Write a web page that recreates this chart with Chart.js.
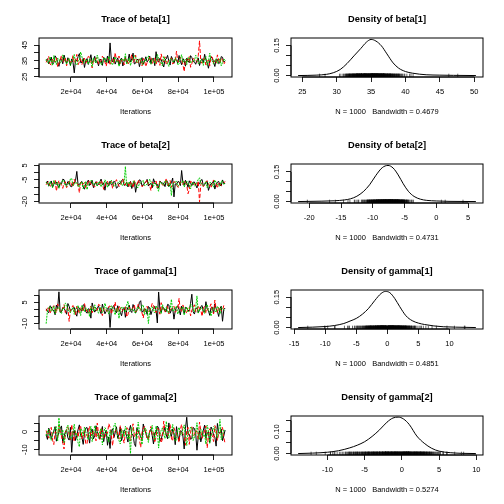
<!DOCTYPE html>
<html>
<head>
<meta charset="utf-8">
<script src="https://cdn.jsdelivr.net/npm/chart.js@4.4.0/dist/chart.umd.min.js"></script>
<style>
  html, body { margin: 0; padding: 0; background: #fff; }
  #wrap { position: relative; width: 504px; height: 504px; }
  #wrap canvas { position: absolute; }
</style>
</head>
<body>
<div id="wrap"></div>
<script>
// ---- data ----
const iterStart = 6100, iterStep = 715;   // thinned iterations
const traceXTicks = [20000, 40000, 60000, 80000, 100000];
const traceXLabels = ['2e+04', '4e+04', '6e+04', '8e+04', '1e+05'];

const beta1Chain1 = [35.2, 36.4, 33.1, 34.9, 37.4, 32.7, 34.0, 38.2, 36.8, 34.5,
  31.6, 36.0, 35.9, 33.2, 38.7, 35.6, 33.4, 37.0, 35.0, 32.3,
  36.2, 34.1, 27.5, 35.8, 34.8, 37.7, 39.6, 33.9, 34.1, 36.6,
  30.9, 35.1, 36.5, 32.8, 35.3, 38.9, 33.8, 35.4, 37.9, 34.2,
  34.6, 31.9, 36.1, 35.5, 32.2, 37.3, 35.7, 34.0, 38.1, 33.6,
  46.3, 35.9, 34.4, 37.5, 33.0, 35.2, 36.9, 32.5, 35.5, 36.8,
  31.8, 34.7, 37.2, 33.5, 35.1, 39.3, 34.3, 36.2, 39.9, 33.1,
  33.6, 35.7, 36.0, 31.4, 34.9, 37.1, 32.9, 35.0, 37.6, 34.4,
  35.4, 38.0, 33.3, 36.3, 36.6, 32.0, 40.8, 35.3, 34.2, 36.7,
  35.8, 33.4, 31.2, 35.6, 36.3, 38.5, 34.7, 32.4, 37.8, 35.9,
  33.5, 36.1, 35.6, 33.7, 38.4, 34.8, 32.6, 36.5, 35.0, 31.7,
  36.7, 35.1, 33.9, 38.3, 37.1, 34.6, 34.5, 32.9, 35.3, 36.9,
  32.1, 35.2, 36.4, 33.8, 39.2, 35.7, 33.7, 30.4, 35.2, 37.4,
  36.9, 34.1, 31.5, 36.0, 35.9, 33.3, 34.0, 37.7, 37.3, 34.3, 35.1];
const beta1Chain2 = [34.1, 35.9, 37.8, 33.0, 32.4, 36.5, 35.6, 34.3, 36.9, 31.2,
  33.2, 35.7, 38.5, 34.0, 34.7, 37.1, 31.9, 35.4, 36.3, 33.8,
  35.0, 38.3, 33.6, 35.1, 39.1, 32.6, 34.4, 36.2, 32.8, 35.8,
  36.7, 33.5, 35.5, 37.9, 37.4, 34.6, 30.6, 35.3, 35.2, 36.8,
  36.8, 32.9, 33.9, 35.0, 38.0, 36.4, 34.2, 31.7, 35.9, 37.2,
  32.3, 34.8, 36.4, 33.2, 40.2, 35.6, 34.6, 38.1, 33.1, 35.4,
  35.8, 32.5, 37.0, 36.0, 32.7, 34.3, 36.1, 39.0, 34.0, 35.2,
  38.6, 33.7, 33.4, 36.6, 35.3, 31.8, 36.6, 35.0, 31.4, 34.1,
  34.9, 37.4, 37.7, 33.3, 35.1, 36.9, 33.0, 35.5, 36.2, 32.2,
  39.4, 35.8, 34.3, 37.6, 32.5, 34.5, 35.7, 36.3, 36.8, 33.1,
  33.8, 35.2, 41.1, 34.4, 34.6, 37.5, 35.4, 32.8, 28.3, 35.9,
  36.0, 34.2, 37.9, 31.0, 33.3, 36.7, 35.6, 35.0, 34.1, 38.2,
  47.6, 34.7, 33.5, 36.1, 36.5, 32.4, 34.8, 35.6, 32.0, 37.8,
  37.3, 34.0, 35.2, 33.6, 38.8, 35.4, 33.6, 36.9, 36.1, 32.9, 34.4];
const beta1Chain3 = [36.0, 34.2, 33.5, 37.6, 35.4, 32.1, 38.3, 35.0, 32.8, 36.8,
  35.9, 33.7, 34.3, 38.8, 37.1, 34.9, 33.0, 35.6, 36.6, 31.9,
  34.8, 36.3, 39.0, 33.4, 32.4, 35.2, 35.5, 40.6, 37.6, 34.0,
  33.9, 36.1, 35.1, 32.9, 36.4, 35.3, 31.3, 37.0, 34.6, 33.6,
  38.7, 35.5, 35.0, 32.6, 33.2, 36.7, 36.9, 34.4, 34.1, 37.9,
  35.7, 33.1, 32.6, 35.8, 37.5, 34.7, 35.3, 31.5, 33.8, 36.2,
  36.2, 34.8, 39.5, 33.0, 34.0, 36.9, 32.1, 35.4, 35.8, 38.4,
  37.3, 33.9, 34.5, 36.0, 36.7, 32.8, 33.1, 35.6, 35.2, 37.4,
  38.1, 34.3, 32.9, 36.5, 35.6, 33.5, 34.2, 39.1, 36.5, 35.1,
  33.7, 31.8, 37.8, 35.7, 35.0, 33.2, 31.6, 36.4, 36.1, 34.5,
  34.4, 37.0, 35.9, 32.4, 33.3, 36.6, 38.9, 34.1, 35.4, 35.9,
  32.7, 37.2, 36.8, 33.6, 34.6, 35.0, 35.1, 38.6, 37.2, 33.3,
  33.6, 35.5, 35.8, 32.2, 36.3, 37.7, 32.3, 34.8, 39.8, 35.3,
  34.9, 33.0, 35.5, 36.4, 33.4, 34.7, 36.6, 31.9, 34.0, 36.3, 35.3];

const beta2Chain1 = [-7.2, -5.9, -9.4, -7.7, -5.8, -10.1, -8.1, -6.4, -6.6, -8.9,
  -10.3, -7.0, -7.9, -4.6, -4.9, -8.2, -8.7, -6.1, -6.9, -9.5,
  -9.8, -7.3, -7.4, -5.5, 0.8, -8.6, -8.3, -6.8, -6.2, -9.9,
  -11.5, -7.6, -7.0, -5.2, -8.9, -7.9, -5.4, -10.4, -7.7, -6.3,
  -9.1, -8.0, -6.4, -4.5, -8.5, -7.1, -12.2, -6.6, -7.3, -9.2,
  -5.9, -8.4, -8.0, -6.0, -6.8, -10.8, -10.1, -7.5, -7.5, -5.6,
  -4.6, -8.8, -8.6, -6.5, -9.9, -7.4, -6.1, -11.0, -7.8, -6.2,
  -13.6, -8.3, -7.1, -5.0, -5.5, -9.1, -8.4, -7.2, -6.7, -4.7,
  -9.3, -7.9, -7.6, -10.5, -4.3, -6.9, -8.2, -8.1, -10.7, -5.8,
  -6.9, -7.3, -7.4, -9.7, -5.2, -6.4, -9.6, -8.5, -7.0, -3.8,
  -16.8, -7.8, -8.1, -6.3, -6.3, -9.0, 1.4, -7.1, -8.8, -5.3,
  -7.2, -10.2, -5.7, -7.5, -9.0, -6.7, -6.5, -8.6, -10.6, -7.0,
  -7.8, -5.4, -4.8, -9.4, -8.3, -6.8, -6.0, -12.3, -9.5, -7.7,
  -7.3, -5.9, -11.4, -8.2, -6.6, -6.1, -8.7, -9.2, -5.1, -7.4, -7.5];
const beta2Chain2 = [-8.4, -6.9, -6.1, -9.0, -9.7, -7.4, -7.0, -5.2, -12.8, -8.1,
  -5.6, -7.7, -8.2, -10.9, -7.5, -6.3, -10.4, -8.8, -6.3, -5.7,
  -8.9, -9.9, -4.7, -7.2, -7.1, -8.5, -13.9, -6.6, -8.6, -7.8,
  -6.8, -10.3, -9.2, -6.0, -5.3, -8.2, -7.9, -9.3, -10.0, -6.7,
  -6.5, -8.0, -8.3, -5.4, -7.3, -11.6, -9.6, -7.1, -5.9, -8.7,
  -8.0, -6.2, -11.1, -7.6, -6.7, -4.9, -7.6, -9.5, -9.4, -7.0,
  -4.4, -8.3, -8.5, -6.5, -7.2, -10.0, -6.0, -7.9, -10.5, -5.6,
  -8.8, -8.1, -5.1, -6.9, -7.7, -9.8, -9.0, -7.3, -6.4, -5.0,
  -8.1, -8.9, -12.5, -6.4, -7.4, -7.5, -5.8, -10.7, -9.3, -6.1,
  -6.9, -8.6, -8.7, -7.3, -3.9, -9.2, -7.8, -5.5, -10.2, -7.9,
  -6.2, -6.8, -8.4, -10.1, -9.8, -6.5, -7.0, -8.3, -5.5, -7.1,
  -8.6, -14.6, -11.7, -6.0, -6.6, -8.5, -7.9, -7.6, -9.1, -5.8,
  -20.3, -8.2, -6.8, -9.7, -8.0, -6.3, -5.7, -7.4, -9.4, -10.6,
  -7.3, -5.1, -6.4, -8.0, -10.8, -6.7, -7.7, -9.0, -8.5, -7.2, -6.1];
const beta2Chain3 = [-6.7, -8.0, -9.1, -6.2, -7.8, -10.5, -5.4, -7.3, -8.6, -6.6,
  -10.9, -8.4, -7.2, -5.1, -6.0, -9.2, -9.5, -7.6, -7.9, -4.3,
  -4.1, -8.9, -8.3, -6.8, -7.0, -9.7, -9.8, -7.1, -6.4, -11.2,
  -8.8, -6.0, -11.8, -7.9, -7.5, -5.5, -5.7, -8.6, -8.0, -7.2,
  -9.3, -6.4, -6.9, -9.9, -7.7, -8.2, -5.0, -6.9, -10.4, -7.4,
  -8.2, -5.3, -6.5, -9.4, -9.0, -7.7, -7.3, -6.1, -5.8, -8.8,
  -8.7, -7.0, 4.2, -9.3, -7.4, -6.5, -9.6, -8.1, -6.2, -5.7,
  -8.1, -10.3, -10.2, -7.5, -7.1, -6.3, -5.3, -9.0, -8.9, -7.8,
  -7.6, -4.6, -6.3, -8.7, -9.4, -7.2, -7.9, -10.8, -12.9, -6.6,
  -6.8, -8.5, -8.4, -5.9, -5.6, -9.1, -9.7, -7.0, -15.9, -8.3,
  -7.2, -6.4, -6.1, -9.5, -8.5, -7.3, -7.0, -5.4, -10.0, -8.1,
  -5.9, -7.8, -8.3, -11.3, -7.4, -6.7, -9.2, -8.8, -6.6, -4.8,
  -3.6, -7.5, -8.0, -9.0, -7.5, -6.2, -10.6, -8.4, -6.9, -7.1,
  -8.6, -10.1, -5.2, -6.8, -7.8, -9.3, -9.1, -6.0, -6.0, -8.2, -7.3];

const gamma1Chain1 = [0.4, -1.5, -2.3, 2.6, 1.8, -0.4, -0.9, -3.8, 3.1, 0.6,
  12.5, -2.1, -1.6, 1.3, 0.7, -0.8, -3.4, 4.2, 2.2, -1.1,
  -0.3, 0.9, 1.5, -2.6, -4.8, 1.6, 0.9, -0.5, -1.2, 3.3,
  2.9, -1.7, -2.7, 0.5, 0.1, -6.2, 4.6, 1.0, -1.9, -0.2,
  1.2, 2.4, -0.6, -3.0, 3.8, 0.3, -3.1, -1.3, 0.5, 1.8,
  -12.8, -0.6, 1.9, 2.7, -0.8, -2.4, 2.6, 0.1, -2.0, -4.5,
  0.3, 1.4, -5.6, -0.9, 1.4, 3.0, -1.0, -2.2, 3.5, 0.8,
  -2.5, -0.3, 0.8, 5.1, 6.2, -1.8, -1.4, 0.4, 0.0, -3.5,
  2.1, 1.1, -3.7, -0.7, 0.6, 2.2, -0.7, -9.6, 12.4, 0.2,
  -2.2, 1.9, 1.1, -1.2, -1.5, 3.6, 3.2, -2.7, -0.4, 0.7,
  -6.9, -1.0, 1.7, 2.5, -0.2, -3.9, 2.4, 0.4, -2.9, 1.5,
  0.9, -0.6, -1.1, 4.3, 10.8, -1.6, -3.3, 0.3, 1.3, -2.3,
  -0.5, 2.0, 2.8, -1.4, -1.8, 5.5, 0.2, -0.9, -4.2, 1.2,
  1.6, -2.8, 3.9, 0.6, -1.3, -5.0, 0.7, 2.3, -8.4, -0.1, 1.0];
const gamma1Chain2 = [-1.1, 0.7, 1.9, -2.8, -0.4, 1.5, 2.7, -0.9, -2.6, 3.9,
  0.8, -1.3, -1.7, 0.4, 3.4, -2.2, 0.2, 1.1, -8.5, -0.6,
  1.3, 2.8, -0.9, -4.0, 2.2, 0.1, -3.0, 1.9, 0.6, -1.5,
  4.1, 0.3, -1.5, -2.9, 0.0, 2.3, -2.4, 0.8, 1.7, -0.7,
  -0.7, 3.6, 3.0, -1.8, -4.4, 0.5, 0.9, -1.0, -1.2, 2.0,
  2.5, -3.3, -0.1, 1.2, 5.3, -0.4, -2.1, 2.6, 1.0, -1.6,
  -0.6, 0.9, 2.0, -5.3, -3.6, 1.7, 0.4, -0.2, 1.6, 3.1,
  -1.8, -0.8, 3.7, 1.4, -0.3, -2.5, -6.1, 0.6, 1.2, 2.2,
  -1.4, -1.1, 0.7, 4.4, 2.9, -0.5, -2.3, 1.3, 0.1, -3.4,
  4.8, 0.8, -1.0, -1.9, 1.8, 2.1, -3.2, -0.3, 0.5, 1.0,
  2.3, -2.0, -0.8, 0.2, 7.9, -1.2, -1.6, 3.2, 0.3, -0.7,
  -2.8, 1.6, 1.4, -4.6, -0.5, 0.9, 3.3, -1.5, -1.9, 2.7,
  0.6, -0.4, -4.9, 1.1, 2.1, -2.7, -0.2, 0.5, 1.5, 4.0,
  -1.3, -3.1, 6.6, 0.2, -2.5, 1.8, 0.8, -1.0, -0.9, 2.9, 2.4];
const gamma1Chain3 = [-10.1, -1.2, 0.9, 2.1, -1.3, -0.5, 2.4, -3.1, -0.2, 1.0,
  1.6, -1.9, -2.8, 0.7, 0.5, 4.5, 3.6, -0.8, -1.0, -2.4,
  0.2, 1.3, -3.5, -0.1, 1.8, 2.9, -0.6, -4.3, 2.9, 0.6,
  -1.7, 1.2, 0.4, -0.9, -5.2, 2.0, 1.1, -1.4, 3.3, 0.2,
  -0.9, -2.7, 0.7, 1.6, -2.2, -0.3, 4.4, 0.9, -1.4, -3.3,
  0.0, 2.5, 2.0, -1.1, -3.9, 0.4, 0.8, -6.4, -0.3, 1.7,
  1.5, -0.7, -1.9, 3.0, 5.8, -1.6, -0.7, 0.3, 0.3, -2.1,
  -2.6, 1.1, 1.9, -0.4, -1.1, 2.8, 3.1, -3.7, -0.4, 0.5,
  -10.0, -0.9, 1.2, 1.9, -1.6, -2.5, 2.6, 0.8, -0.1, -1.0,
  -3.0, 3.4, 0.6, -0.6, 1.4, -2.2, -2.0, 0.1, 7.2, -1.3,
  -0.8, 1.6, 2.2, -3.2, -1.2, 0.4, 0.1, 2.0, -4.1, -0.5,
  1.7, -1.8, -0.5, 3.8, 2.7, -0.2, -1.8, 1.1, 9.6, -2.6,
  -0.2, 0.9, 1.0, -1.5, -2.9, 2.4, 3.5, -0.8, -1.5, -4.7,
  0.4, 1.3, -0.7, -2.0, 2.3, 0.6, -3.4, 1.8, 0.9, -0.3, -1.0];

const gamma2Chain1 = [-1.4, -4.2, 2.1, 0.3, -3.8, -1.6, 0.6, 3.0, -5.2, -2.5,
  -0.3, 1.8, 3.4, -6.1, -2.7, 0.0, 1.2, -3.3, -4.6, 2.6,
  -11.5, -0.9, 0.9, -4.8, -1.9, 1.4, 4.0, -2.0, -3.1, -7.0,
  -0.8, 2.2, 2.5, -1.3, -6.3, 0.4, 1.6, -3.9, -2.2, 3.5,
  0.2, -1.8, -4.0, -0.6, 3.1, -5.5, -1.1, 1.0, -7.5, -2.8,
  -9.3, 0.7, 1.8, -3.2, -0.5, 2.9, -3.6, -1.2, 2.8, -4.9,
  -2.0, 1.1, 0.4, -2.6, -5.7, 0.9, 3.7, -1.5, -1.6, -6.5,
  -8.2, 2.4, 0.8, -0.9, -2.9, -4.3, 4.5, 1.2, -0.7, -3.4,
  -3.3, 0.3, 1.5, -2.1, -6.8, -0.4, -0.2, 3.3, 2.3, -5.3,
  -4.4, -1.0, 0.1, 2.7, -1.7, -3.8, 5.1, -0.3, -2.6, 1.7,
  -0.9, -7.2, 3.0, -1.9, -5.0, 0.6, 0.5, -2.3, -9.6, 1.9,
  8.3, -1.4, -1.3, -4.1, -3.7, 2.5, 2.0, -0.8, -10.3, -2.7,
  0.7, -5.6, -2.4, 1.0, 3.9, -3.5, -1.0, 0.2, -6.0, 2.8,
  1.3, -1.9, -3.0, -8.0, 4.8, -0.5, -0.6, 1.6, -4.9, -2.2, 1.1];
const gamma2Chain2 = [0.8, -2.0, -3.5, 1.7, 2.6, -4.6, -7.1, 0.1, -0.4, -2.9,
  3.8, 1.0, -2.3, -5.9, -9.6, -0.7, 1.4, 2.9, -1.8, -4.4,
  4.2, -1.5, -5.5, 0.5, -0.1, -3.1, 2.0, 3.7, -3.9, -1.0,
  0.7, -6.9, -6.6, 1.2, 3.3, -2.4, -1.2, 0.6, -0.5, -5.0,
  5.0, -1.3, -4.2, 2.1, 1.0, -3.7, -2.8, 0.0, -0.9, 4.7,
  2.7, -2.2, -7.8, -0.4, 0.3, 1.5, -1.5, -4.1, 3.5, 0.9,
  -3.0, -6.3, -0.6, 2.4, 1.9, -1.8, -5.1, 0.3, 4.6, -2.7,
  -2.1, 1.3, 0.0, -4.5, -8.7, -0.2, 2.2, 3.2, -1.1, -3.3,
  -4.5, 0.8, 3.1, -1.6, -0.3, -6.0, -2.5, 2.0, 1.7, -0.9,
  -6.2, -3.8, 6.1, 0.4, -1.4, -2.3, 0.6, 4.1, -3.4, -5.2,
  2.4, 0.2, -0.8, -3.0, -5.8, 1.6, 4.3, -1.2, -2.0, -7.5,
  0.9, 2.6, -7.0, -0.1, 2.9, -2.6, -1.7, 1.1, -0.2, -4.0,
  5.6, 0.7, -3.6, -1.1, 0.4, 3.4, -9.0, -2.2, 1.8, 0.0,
  -2.2, -5.4, 3.6, 1.9, -4.8, -0.8, -0.7, 2.2, 2.5, -3.2, -6.5];
const gamma2Chain3 = [-2.2, 0.5, 1.6, -3.4, -4.7, -0.8, 0.3, 2.5, 3.0, -5.1,
  8.0, -1.0, -1.9, 1.3, -6.0, -2.5, 2.2, 3.9, -0.7, -4.0,
  -3.2, 0.2, 4.4, -1.7, -1.0, -6.2, -8.4, 1.8, 0.9, -2.3,
  2.8, 0.1, -2.6, -4.4, -0.2, 3.1, -5.4, -1.4, 3.6, 0.6,
  -1.3, -3.6, 0.5, 2.0, -7.3, -0.5, 2.4, 1.2, -3.8, -5.7,
  1.1, -1.9, -0.8, 3.3, 4.9, -0.3, -2.4, -4.9, -6.7, 1.4,
  0.2, -2.8, 3.2, 0.8, -4.1, -1.5, -12.2, 2.6, 1.5, -0.6,
  -1.6, -3.9, 5.5, 0.3, -3.0, -7.1, -0.4, 1.9, 2.0, -2.2,
  -5.9, -0.1, 0.7, 3.7, -2.0, -4.5, 3.4, 0.4, -9.1, -1.6,
  1.0, 2.3, -1.2, -3.7, 6.0, 0.9, -3.5, -2.1, 0.4, 4.2,
  -0.6, -5.3, -4.6, 0.7, 2.6, -1.3, -1.8, 1.7, 4.0, -3.0,
  -7.6, -0.4, 0.1, 2.8, 2.1, -4.8, -2.9, 0.0, 5.2, -1.8,
  -4.3, 1.5, 0.8, -2.5, -1.4, -6.8, 3.8, 0.9, -6.4, -2.6,
  -0.1, 3.0, 2.3, -1.1, -3.3, 0.6, 7.1, -4.4, -2.1, 1.2, 0.6];

// density curves
const beta1DensX = [24.38, 27, 28.5, 29.5, 30.5, 31.5, 32.5, 33.5, 34.3, 35, 35.7, 36.5, 37.3, 38.2, 39, 40, 41, 42, 43, 45, 47, 50.24];
const beta1DensY = [0, 0.002, 0.006, 0.014, 0.03, 0.06, 0.098, 0.135, 0.166, 0.18, 0.172, 0.148, 0.108, 0.063, 0.037, 0.02, 0.012, 0.007, 0.004, 0.002, 0.001, 0];
const beta2DensX = [-21.75, -18, -16, -14.5, -13.5, -12.5, -11.5, -10.5, -9.5, -8.5, -7.6, -6.8, -6, -5.2, -4.4, -3.5, -2.5, -1.5, 0, 2, 6.23];
const beta2DensY = [0, 0.002, 0.004, 0.008, 0.014, 0.027, 0.05, 0.085, 0.133, 0.172, 0.183, 0.17, 0.135, 0.09, 0.052, 0.026, 0.012, 0.006, 0.003, 0.001, 0];
const gamma1DensX = [-14.35, -12, -10, -8.5, -7, -6, -5, -4, -3, -2, -1, -0.3, 0.4, 1.2, 2, 3, 4, 5, 6, 7.5, 9, 11, 14.25];
const gamma1DensY = [0, 0.002, 0.005, 0.01, 0.02, 0.032, 0.045, 0.066, 0.095, 0.134, 0.168, 0.178, 0.172, 0.143, 0.103, 0.058, 0.034, 0.022, 0.015, 0.008, 0.004, 0.002, 0];
const gamma2DensX = [-13.94, -12, -10, -8.5, -7, -6, -5, -4, -3, -2, -1.2, -0.5, 0.2, 1, 2, 3, 4, 5, 6.5, 8, 9.94];
const gamma2DensY = [0, 0.002, 0.006, 0.013, 0.026, 0.038, 0.054, 0.078, 0.108, 0.143, 0.162, 0.166, 0.158, 0.132, 0.08, 0.047, 0.024, 0.011, 0.004, 0.001, 0];

const bandwidths = ['0.4679', '0.4731', '0.4851', '0.5274'];
const sampleSize = 1000;

// ticks
const beta1TraceYTicks = [25, 30, 35, 40, 45];
const beta1TraceYLabels = ['25', '', '35', '', '45'];
const beta2TraceYTicks = [-20, -15, -10, -5, 0, 5];
const beta2TraceYLabels = ['-20', '', '', '-5', '', '5'];
const gamma1TraceYTicks = [-10, -5, 0, 5, 10];
const gamma1TraceYLabels = ['-10', '', '', '5', ''];
const gamma2TraceYTicks = [-10, -5, 0, 5];
const gamma2TraceYLabels = ['-10', '', '0', ''];

const densYTicks = [0, 0.05, 0.10, 0.15];
const densYLabels = ['0.00', '', '', '0.15'];
const gamma2DensYLabels = ['0.00', '', '0.10', ''];
const beta1DensXTicks = [25, 30, 35, 40, 45, 50];
const beta2DensXTicks = [-20, -15, -10, -5, 0, 5];
const gamma1DensXTicks = [-15, -10, -5, 0, 5, 10];
const gamma2DensXTicks = [-10, -5, 0, 5, 10];

// ---- panels ----
const FONT = '"Liberation Sans", Arial, Helvetica, sans-serif';
const chainColors = ['#000000', '#FF0000', '#00CD00'];
const chainDash = [[], [4, 2], [2, 1]];

const params = [
  { name: 'beta[1]', chains: [beta1Chain1, beta1Chain2, beta1Chain3], tY: [24.9, 49.4], tYTicks: beta1TraceYTicks, tYLabels: beta1TraceYLabels,
    dX: beta1DensX, dY: beta1DensY, dXLim: [23.35, 51.27], dYLim: [-0.0072, 0.1872], dXTicks: beta1DensXTicks, dYLabels: densYLabels },
  { name: 'beta[2]', chains: [beta2Chain1, beta2Chain2, beta2Chain3], tY: [-21, 5.9], tYTicks: beta2TraceYTicks, tYLabels: beta2TraceYLabels,
    dX: beta2DensX, dY: beta2DensY, dXLim: [-22.87, 7.35], dYLim: [-0.0073, 0.1903], dXTicks: beta2DensXTicks, dYLabels: densYLabels },
  { name: 'gamma[1]', chains: [gamma1Chain1, gamma1Chain2, gamma1Chain3], tY: [-13.9, 13.8], tYTicks: gamma1TraceYTicks, tYLabels: gamma1TraceYLabels,
    dX: gamma1DensX, dY: gamma1DensY, dXLim: [-15.5, 15.4], dYLim: [-0.0071, 0.1851], dXTicks: gamma1DensXTicks, dYLabels: densYLabels },
  { name: 'gamma[2]', chains: [gamma2Chain1, gamma2Chain2, gamma2Chain3], tY: [-13, 9], tYTicks: gamma2TraceYTicks, tYLabels: gamma2TraceYLabels,
    dX: gamma2DensX, dY: gamma2DensY, dXLim: [-14.9, 10.9], dYLim: [-0.0066, 0.1711], dXTicks: gamma2DensXTicks, dYLabels: gamma2DensYLabels }
];

// R style box, axis lines and rotated y labels
const rAxes = {
  id: 'rAxes',
  afterDatasetsDraw(chart) {
    const { ctx, chartArea: a, scales: { x, y } } = chart;
    ctx.save();
    ctx.strokeStyle = '#000';
    ctx.lineWidth = 1;
    ctx.strokeRect(a.left, a.top, a.right - a.left, a.bottom - a.top);
    const xt = x.ticks, yt = y.ticks;
    ctx.beginPath();
    ctx.moveTo(x.getPixelForValue(xt[0].value), a.bottom);
    ctx.lineTo(x.getPixelForValue(xt[xt.length - 1].value), a.bottom);
    ctx.moveTo(a.left, y.getPixelForValue(yt[0].value));
    ctx.lineTo(a.left, y.getPixelForValue(yt[yt.length - 1].value));
    ctx.stroke();
    ctx.fillStyle = '#000';
    ctx.font = '7.5px ' + FONT;
    ctx.textAlign = 'center';
    ctx.textBaseline = 'middle';
    yt.forEach(t => {
      if (!t.label) return;
      ctx.save();
      ctx.translate(a.left - 14, y.getPixelForValue(t.value));
      ctx.rotate(-Math.PI / 2);
      ctx.fillText(t.label, 0, 0);
      ctx.restore();
    });
    ctx.restore();
  }
};

function baseOptions(title, xTitle, padRight, xLim, yLim, xTicks, xLabels, yTicks, yLabels) {
  return {
    responsive: false,
    animation: false,
    events: [],
    layout: { padding: { left: 0, right: padRight, top: 0, bottom: 0 } },
    plugins: {
      legend: { display: false },
      tooltip: { enabled: false },
      title: {
        display: true, text: title, color: '#000', fullSize: false,
        font: { family: FONT, size: 9.3, weight: 'bold', lineHeight: 1.2 },
        padding: { top: 13.8, bottom: 13.04 }
      }
    },
    scales: {
      x: {
        type: 'linear', min: xLim[0], max: xLim[1],
        afterBuildTicks: s => { s.ticks = xTicks.map(v => ({ value: v })); },
        afterFit: s => { s.height = 49; },
        border: { display: false },
        grid: { drawOnChartArea: false, drawTicks: true, tickLength: 5, color: '#222', lineWidth: 1 },
        ticks: { autoSkip: false, maxRotation: 0, padding: 5, color: '#000',
          font: { family: FONT, size: 7.5 },
          callback: (v, i) => xLabels[i] },
        title: { display: true, text: xTitle, color: '#000',
          font: { family: FONT, size: 7.5 }, padding: { top: 0, bottom: 9.8 } }
      },
      y: {
        type: 'linear', min: yLim[0], max: yLim[1],
        afterBuildTicks: s => { s.ticks = yTicks.map(v => ({ value: v })); },
        afterFit: s => { s.width = 39; },
        border: { display: false },
        grid: { drawOnChartArea: false, drawTicks: true, tickLength: 5, color: '#222', lineWidth: 1 },
        ticks: { display: false, callback: (v, i) => yLabels[i] }
      }
    }
  };
}

const wrap = document.getElementById('wrap');
function addCanvas(col, row) {
  const c = document.createElement('canvas');
  c.width = 252; c.height = 126;
  c.style.left = (col * 252) + 'px';
  c.style.top = (row * 126) + 'px';
  wrap.appendChild(c);
  return c.getContext('2d');
}

params.forEach((p, row) => {
  // trace plot: chain 1 drawn first, chain 3 on top
  const traceSets = p.chains.map((vals, k) => ({
    data: vals.map((v, i) => ({ x: iterStart + i * iterStep, y: v })),
    borderColor: chainColors[k],
    borderDash: chainDash[k],
    borderWidth: 1,
    pointRadius: 0,
    tension: 0,
    order: 3 - k
  }));
  new Chart(addCanvas(0, row), {
    type: 'line',
    data: { datasets: traceSets },
    options: baseOptions('Trace of ' + p.name, 'Iterations', 20, [2100, 110070], p.tY,
      traceXTicks, traceXLabels, p.tYTicks, p.tYLabels),
    plugins: [rAxes]
  });

  // density plot with rug of the samples
  const allSamples = [].concat(...p.chains);
  new Chart(addCanvas(1, row), {
    type: 'line',
    data: {
      datasets: [
        {
          data: p.dX.map((x, i) => ({ x: x, y: p.dY[i] })),
          borderColor: '#000', borderWidth: 1, pointRadius: 0,
          cubicInterpolationMode: 'monotone', order: 1
        },
        {
          type: 'scatter',
          data: allSamples.map(v => ({ x: v, y: p.dYLim[0] })),
          pointStyle: 'line', rotation: 90, radius: 3.3,
          borderColor: 'rgba(0,0,0,0.6)', borderWidth: 1,
          clip: 0, order: 2
        }
      ]
    },
    options: baseOptions('Density of ' + p.name,
      'N = ' + sampleSize + '   Bandwidth = ' + bandwidths[row], 21, p.dXLim, p.dYLim,
      p.dXTicks, p.dXTicks.map(String), densYTicks, p.dYLabels),
    plugins: [rAxes]
  });
});
</script>
</body>
</html>
